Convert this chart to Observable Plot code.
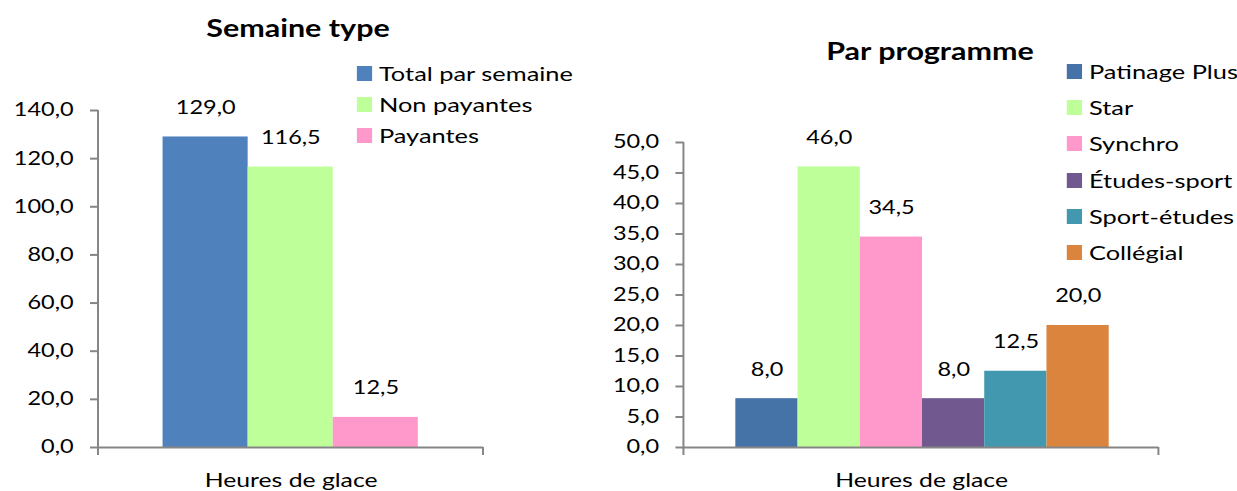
<!DOCTYPE html>
<html>
<head>
<meta charset="utf-8">
<script src="https://cdn.jsdelivr.net/npm/d3@7"></script>
<script src="https://cdn.jsdelivr.net/npm/@observablehq/plot@0.6"></script>
<style>
  html, body { margin: 0; padding: 0; background: #fff; overflow: hidden; }
  #outer { position: relative; width: 1237px; height: 491px; overflow: hidden; }
  #wrap { position: absolute; left: 0; top: 0; height: 491px; transform-origin: 0 0; font-family: Lato, "Open Sans", sans-serif; color: #000; }
  .chart { position: absolute; top: 0; }
  .title { position: absolute; font-weight: bold; font-size: 24px; transform: translate(-50%, -50%); white-space: nowrap; }
  .legend { position: absolute; top: 0; font-size: 20px; }
  .legend .row { position: absolute; white-space: nowrap; display: flex; align-items: center; transform: translateY(-50%); }
  .legend .sw { height: 15px; flex: none; }
</style>
</head>
<body>
<div id="outer"><div id="wrap"></div></div>
<script>
// ---- Data ----
const weekSeries = ["Total par semaine", "Non payantes", "Payantes"];
const weekValues = [129.0, 116.5, 12.5];
const weekColors = ["#4F81BD", "#BEFF99", "#FF99CC"];
const weekTicks = [0, 20, 40, 60, 80, 100, 120, 140];

const progSeries = ["Patinage Plus", "Star", "Synchro", "Études-sport", "Sport-études", "Collégial"];
const progValues = [8.0, 46.0, 34.5, 8.0, 12.5, 20.0];
const progColors = ["#4572A7", "#BEFF99", "#FF99CC", "#71588F", "#4298AF", "#DB843D"];
const progTicks = [0, 5, 10, 15, 20, 25, 30, 35, 40, 45, 50];

const categoryLabel = "Heures de glace";
const weekTitle = "Semaine type";
const progTitle = "Par programme";

// The original picture is horizontally stretched; reproduce it by drawing at
// a narrower width and stretching the whole page horizontally by S.
const S = 1.27;
const X = v => v / S;

const fmt = d => d.toFixed(1).replace(".", ",");
const axisColor = "#868686";
const FONT = "Lato, 'Open Sans', sans-serif";

function axisLines(index, scales, values, dims) {
  const g = d3.create("svg:g").attr("stroke", axisColor);
  const y0 = scales.y(0);
  const xl = dims.marginLeft, xr = dims.width - dims.marginRight;
  // vertical y-axis line
  g.append("line").attr("x1", xl).attr("x2", xl).attr("y1", dims.marginTop).attr("y2", y0 + 8).attr("stroke-width", 2 / S);
  // end tick of the category axis
  g.append("line").attr("x1", xr).attr("x2", xr).attr("y1", y0).attr("y2", y0 + 8).attr("stroke-width", 2 / S);
  return g.node();
}

function makeChart({series, values, colors, ticks, width, marginLeft, marginRight, marginTop, xRange, yMax}) {
  const data = series.map((s, i) => ({name: s, value: values[i]}));
  return Plot.plot({
    width, height: 491,
    marginLeft, marginRight, marginTop, marginBottom: 44,
    style: {fontFamily: FONT, fontSize: "18.5px", color: "#000", background: "transparent", overflow: "visible"},
    x: {type: "band", domain: series, range: xRange, padding: 0, axis: null},
    y: {domain: [0, yMax], axis: null},
    color: {domain: series, range: colors},
    marks: [
      Plot.barY(data, {x: "name", y: "value", fill: "name", inset: 0}),
      Plot.axisY({ticks, tickFormat: fmt, tickSize: X(8), tickPadding: X(17), stroke: axisColor, strokeWidth: 2, fill: "#000", fontSize: 18.5, label: null}),
      Plot.ruleY([0], {stroke: axisColor, strokeWidth: 2}),
      axisLines,
      Plot.text(data, {x: "name", y: "value", text: d => fmt(d.value), dy: -29, fontSize: 18.5, fill: "#000"}),
      Plot.text([categoryLabel], {frameAnchor: "bottom", dy: 40, fontSize: 19.5, fill: "#000"})
    ]
  });
}

const wrap = document.getElementById("wrap");
wrap.style.width = X(1237) + "px";
wrap.style.transform = `scaleX(${S})`;

const left = makeChart({
  series: weekSeries, values: weekValues, colors: weekColors, ticks: weekTicks,
  width: X(600), marginLeft: X(98), marginRight: X(117), marginTop: 110, xRange: [X(162), X(419)], yMax: 140
});
left.classList.add("chart");
left.style.left = "0px";
wrap.appendChild(left);

const right = makeChart({
  series: progSeries, values: progValues, colors: progColors, ticks: progTicks,
  width: X(637), marginLeft: X(84), marginRight: X(78), marginTop: 142, xRange: [X(132), X(512)], yMax: 50
});
right.classList.add("chart");
right.style.left = X(600) + "px";
wrap.appendChild(right);

function addTitle(text, x, y) {
  const t = document.createElement("div");
  t.className = "title";
  t.textContent = text;
  t.style.left = X(x) + "px";
  t.style.top = y + "px";
  wrap.appendChild(t);
}
addTitle(weekTitle, 298, 27);
addTitle(progTitle, 930, 50);

function addLegend(series, colors, x, ys) {
  const lg = document.createElement("div");
  lg.className = "legend";
  lg.style.left = X(x) + "px";
  series.forEach((s, i) => {
    const r = document.createElement("div");
    r.className = "row";
    r.style.top = ys[i] + "px";
    const sw = document.createElement("span");
    sw.className = "sw";
    sw.style.width = X(15) + "px";
    sw.style.marginRight = X(7) + "px";
    sw.style.background = colors[i];
    const tx = document.createElement("span");
    tx.textContent = s;
    r.appendChild(sw); r.appendChild(tx);
    lg.appendChild(r);
  });
  wrap.appendChild(lg);
}
addLegend(weekSeries, weekColors, 357, [73, 104, 135]);
addLegend(progSeries, progColors, 1067, [71, 107, 143, 180, 216, 252]);
</script>
</body>
</html>
